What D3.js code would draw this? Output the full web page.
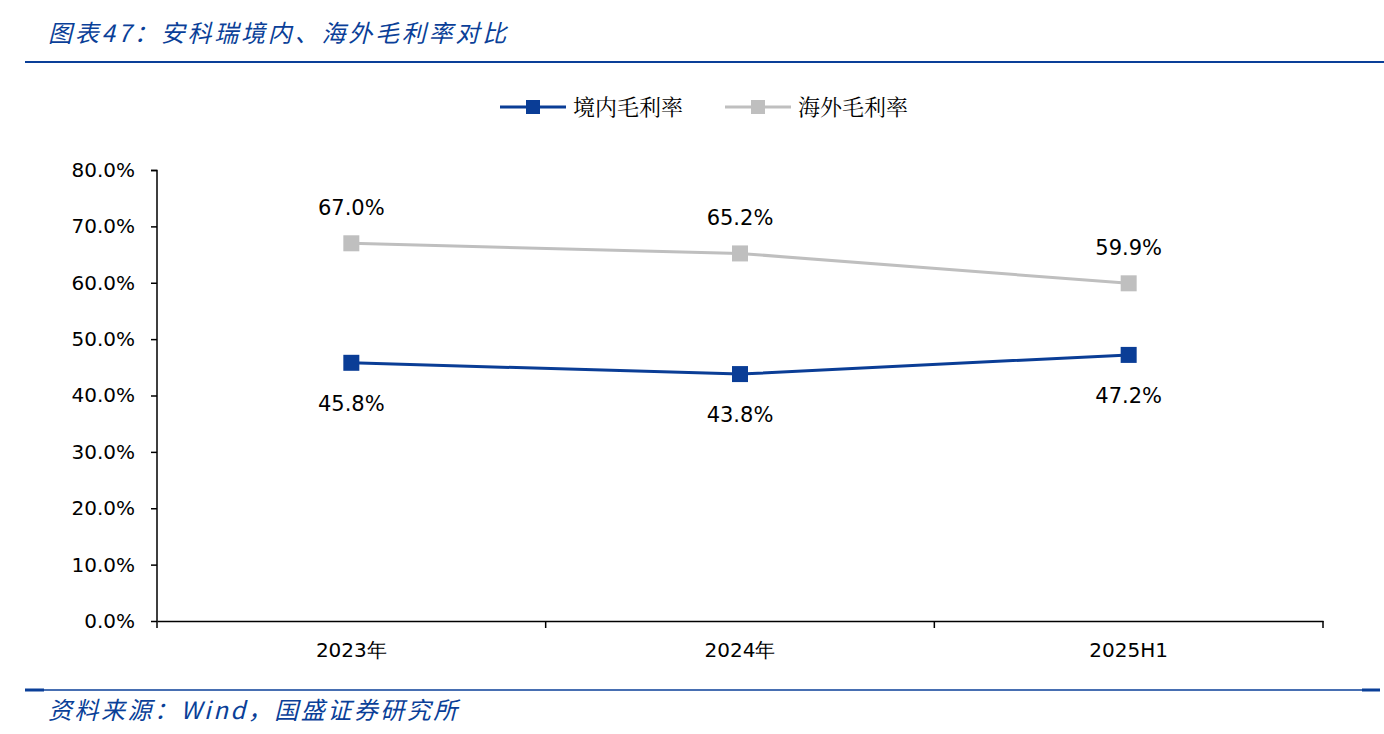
<!DOCTYPE html>
<html>
<head>
<meta charset="utf-8">
<script src="https://cdn.jsdelivr.net/npm/d3@7"></script>
<style>
  body { margin: 0; background: #fff; }
  svg { display: block; }
</style>
</head>
<body>
<div id="chart"></div>
<script>
const categories = ['2023年', '2024年', '2025H1'];
const domestic = [45.8, 43.8, 47.2];
const overseas = [67.0, 65.2, 59.9];
const yTicks = [0, 10, 20, 30, 40, 50, 60, 70, 80];

const width = 1384, height = 734;
const blue = '#0A3D96', gray = '#BFBFBF', navy = '#0A3F98';
const numFont = '"DejaVu Sans", Verdana, sans-serif';
const cjkSerif = '"Noto Serif CJK SC", "Noto Sans CJK SC", serif';

const svg = d3.select('#chart').append('svg')
    .attr('width', width)
    .attr('height', height);

// title + rules
svg.append('text')
    .attr('x', 48).attr('y', 42)
    .style('font-family', '"Noto Sans CJK SC", sans-serif')
    .style('font-style', 'italic')
    .style('font-size', '24px')
    .style('letter-spacing', '2.8px')
    .style('fill', navy)
    .text('图表47：安科瑞境内、海外毛利率对比');

svg.append('line')
    .attr('x1', 25).attr('x2', 1384).attr('y1', 62).attr('y2', 62)
    .attr('stroke', navy).attr('stroke-width', 2);

svg.append('line')
    .attr('x1', 25).attr('x2', 1380).attr('y1', 690).attr('y2', 690)
    .attr('stroke', navy).attr('stroke-width', 1.5);
svg.append('line')
    .attr('x1', 25).attr('x2', 44).attr('y1', 690).attr('y2', 690)
    .attr('stroke', navy).attr('stroke-width', 3);
svg.append('line')
    .attr('x1', 1362).attr('x2', 1380).attr('y1', 690).attr('y2', 690)
    .attr('stroke', navy).attr('stroke-width', 3);

svg.append('text')
    .attr('x', 48).attr('y', 719)
    .style('font-family', '"Noto Sans CJK SC", sans-serif')
    .style('font-style', 'italic')
    .style('font-size', '24px')
    .style('letter-spacing', '2.5px')
    .style('fill', navy)
    .text('资料来源：Wind，国盛证券研究所');

// scales
const x = d3.scaleBand().domain(categories).range([157, 1323]);
const y = d3.scaleLinear().domain([0, 80]).range([621, 170]);

const yAxis = svg.append('g')
    .attr('transform', 'translate(157,0)')
    .call(d3.axisLeft(y).tickValues(yTicks).tickSize(6).tickPadding(16)
        .tickFormat(d => d.toFixed(1) + '%'));
yAxis.select('.domain').attr('stroke', '#000').attr('stroke-width', 1.5).attr('d', 'M-6,170.5H0V621');
yAxis.selectAll('.tick line').attr('stroke', '#000').attr('stroke-width', 1.5);
yAxis.selectAll('.tick text')
    .style('font-family', numFont).style('font-size', '20px').style('fill', '#000');

const xAxis = svg.append('g')
    .attr('transform', 'translate(0,621)')
    .call(d3.axisBottom(x).tickSize(0).tickPadding(22));
xAxis.select('.domain').attr('stroke', '#000').attr('stroke-width', 1.5);
xAxis.selectAll('.tick text')
    .style('font-family', numFont).style('font-size', '20px').style('fill', '#000');

// category boundary ticks
const bounds = categories.map(c => x(c)).concat([x.range()[1]]);
svg.append('g').selectAll('line')
    .data(bounds)
    .enter()
    .append('line')
    .attr('x1', d => d).attr('x2', d => d)
    .attr('y1', 621).attr('y2', 628)
    .attr('stroke', '#000').attr('stroke-width', 1.5);

const cx = c => x(c) + x.bandwidth() / 2;

const series = [
    { name: '境内毛利率', values: domestic, color: blue, labelDy: 48 },
    { name: '海外毛利率', values: overseas, color: gray, labelDy: -28 }
];

const line = d3.line()
    .x((d, i) => cx(categories[i]))
    .y(d => y(d));

series.forEach(s => {
    svg.append('path')
        .datum(s.values)
        .attr('d', line)
        .attr('fill', 'none')
        .attr('stroke', s.color)
        .attr('stroke-width', 3);

    svg.append('g').selectAll('rect')
        .data(s.values)
        .enter()
        .append('rect')
        .attr('x', (d, i) => cx(categories[i]) - 8)
        .attr('y', d => y(d) - 8)
        .attr('width', 16).attr('height', 16)
        .attr('fill', s.color);

    svg.append('g').selectAll('text')
        .data(s.values)
        .enter()
        .append('text')
        .attr('x', (d, i) => cx(categories[i]))
        .attr('y', d => y(d) + s.labelDy)
        .attr('text-anchor', 'middle')
        .style('font-family', numFont)
        .style('font-size', '21px')
        .style('fill', '#000')
        .text(d => d.toFixed(1) + '%');
});

// legend
const legend = svg.append('g');
const legendItems = [
    { name: series[0].name, color: blue, x: 500 },
    { name: series[1].name, color: gray, x: 725 }
];
legendItems.forEach(l => {
    legend.append('line')
        .attr('x1', l.x).attr('x2', l.x + 66).attr('y1', 107).attr('y2', 107)
        .attr('stroke', l.color).attr('stroke-width', 3);
    legend.append('rect')
        .attr('x', l.x + 26).attr('y', 100).attr('width', 14).attr('height', 14)
        .attr('fill', l.color);
    legend.append('text')
        .attr('x', l.x + 73).attr('y', 115)
        .style('font-family', cjkSerif)
        .style('font-size', '22px')
        .style('fill', '#000')
        .text(l.name);
});
</script>
</body>
</html>
